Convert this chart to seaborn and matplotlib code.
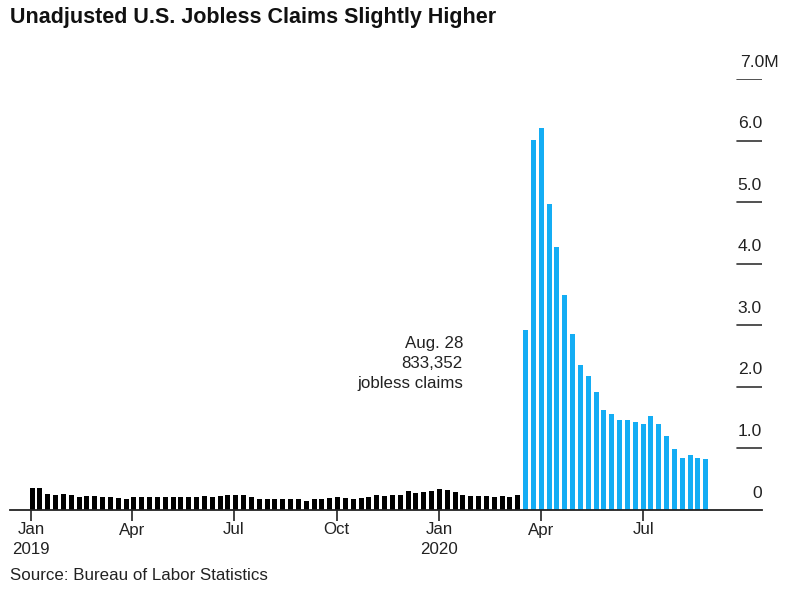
import numpy as np
import pandas as pd
import seaborn as sns
import matplotlib
matplotlib.use("Agg")
import matplotlib.pyplot as plt
import matplotlib.dates as mdates

# weekly unadjusted initial claims, millions (weeks ending Saturday)
weeks = pd.date_range("2019-01-05", "2020-08-29", freq="W-SAT")

claims_before = [
    0.358, 0.358, 0.260, 0.249, 0.260, 0.238, 0.217, 0.228, 0.228, 0.217,
    0.206, 0.195, 0.173, 0.206, 0.206,
    0.217, 0.217, 0.217, 0.217, 0.217, 0.217, 0.206, 0.228, 0.206, 0.228,
    0.238, 0.249, 0.238, 0.206, 0.184, 0.184,
    0.179, 0.179, 0.179, 0.173, 0.152, 0.179, 0.179, 0.195, 0.206, 0.195,
    0.184, 0.195, 0.206, 0.238, 0.228, 0.238,
    0.238, 0.314, 0.271, 0.293, 0.314, 0.336, 0.325, 0.293, 0.238, 0.228,
    0.228, 0.228, 0.217, 0.228, 0.217, 0.249,
]
claims_pandemic = [
    2.920, 6.016, 6.211, 4.972, 4.281, 3.500, 2.860, 2.350, 2.175, 1.910,
    1.625, 1.565, 1.465, 1.460, 1.435, 1.390, 1.520, 1.390, 1.205, 0.995,
    0.840, 0.890, 0.840, 0.833352,
]

tick_dates = ["2019-01-01", "2019-04-01", "2019-07-01", "2019-10-01",
              "2020-01-01", "2020-04-01", "2020-07-01"]
tick_labels = ["Jan\n2019", "Apr", "Jul", "Oct", "Jan\n2020", "Apr", "Jul"]
y_ticks = [0, 1, 2, 3, 4, 5, 6, 7]
y_labels = ["0", "1.0", "2.0", "3.0", "4.0", "5.0", "6.0", "7.0M"]

df = pd.DataFrame({
    "week": mdates.date2num(weeks - pd.Timedelta(days=3)),
    "claims": claims_before + claims_pandemic,
    "period": ["before"] * len(claims_before) + ["pandemic"] * len(claims_pandemic),
})

sns.set_theme(style="white")
plt.rcParams["font.family"] = ["Liberation Sans", "DejaVu Sans"]

W, H = 789, 592
fig = plt.figure(figsize=(W / 100, H / 100), dpi=100)
ax = fig.add_axes([10 / W, 1 - 510 / H, 752 / W, (510 - 79.3) / H])

sns.barplot(data=df, x="week", y="claims", hue="period",
            palette={"before": "#000000", "pandemic": "#14adf4"},
            native_scale=True, dodge=False, width=0.64, saturation=1,
            linewidth=0, legend=False, ax=ax)

x0 = mdates.date2num(pd.Timestamp("2019-01-01")) - 18.8
ax.set_xlim(x0, x0 + 672)
ax.set_ylim(0, 7)

for s in ["top", "right", "left"]:
    ax.spines[s].set_visible(False)
ax.spines["bottom"].set_color("#222222")
ax.spines["bottom"].set_linewidth(1.3)

ax.set_xticks(mdates.date2num(pd.to_datetime(tick_dates)))
ax.set_xticklabels(tick_labels, fontsize=12.2, color="#222222", linespacing=1.35)
ax.tick_params(axis="x", length=8, width=1.2, color="#222222", pad=1, bottom=True)
ax.set_yticks([])
ax.set_xlabel("")
ax.set_ylabel("")

frac = (737 - 10) / 752
for v, lab in zip(y_ticks, y_labels):
    if v > 0:
        ax.axhline(v, xmin=frac, xmax=1, color="#333333", lw=1.2)
    if lab.endswith("M"):
        ax.annotate(lab, xy=(frac, v), xycoords=("axes fraction", "data"),
                    xytext=(3, 12), textcoords="offset pixels",
                    ha="left", va="baseline", fontsize=12.6, color="#222222")
    else:
        ax.annotate(lab, xy=(1, v), xycoords=("axes fraction", "data"),
                    xytext=(0, 12.5), textcoords="offset pixels",
                    ha="right", va="baseline", fontsize=12.6, color="#222222")

fig.text(463 / W, 1 - 336 / H, "Aug. 28\n833,352\njobless claims",
         ha="right", va="top", fontsize=12.2, color="#222222", linespacing=1.4)

fig.text(10 / W, 1 - 7 / H, "Unadjusted U.S. Jobless Claims Slightly Higher",
         ha="left", va="top", fontsize=15.5, fontweight="bold", color="#111111")
fig.text(10 / W, 1 - 568 / H, "Source: Bureau of Labor Statistics",
         ha="left", va="top", fontsize=12.2, color="#222222")

fig.savefig("out.png", dpi=100)
